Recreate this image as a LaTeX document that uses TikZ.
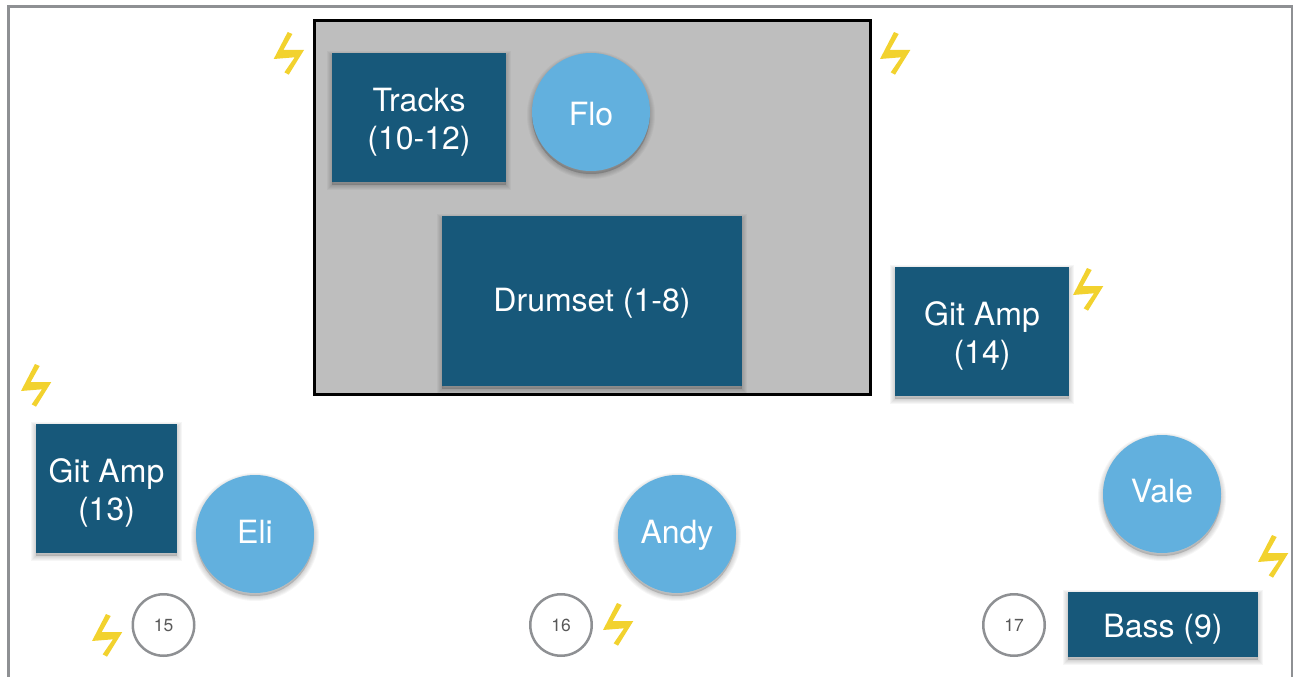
\documentclass[tikz,border=0pt]{standalone}
\usepackage{fontspec}
\setmainfont{TeX Gyre Heros}
\definecolor{boxblue}{HTML}{17587A}
\definecolor{circblue}{HTML}{62B0DE}
\definecolor{framegray}{HTML}{8E9093}
\definecolor{stagegray}{HTML}{BEBEBE}
\definecolor{boltyellow}{HTML}{F2D22E}
\tikzset{
  shadowlayer/.style={preaction={draw=black,fill=black,draw opacity=0.035,fill opacity=0.035,line width=#1,transform canvas={yshift=-3pt}}},
  softshadow/.style={shadowlayer=10pt,shadowlayer=8pt,shadowlayer=6pt,shadowlayer=4pt,shadowlayer=2pt},
  base/.style={text height=2*#1,text depth=0pt},
  baseup/.style={text height=0pt,text depth=2*#1},
  gear/.style={draw=none,fill=boxblue,text=white,inner sep=0pt,align=center,font=\fontsize{32}{38}\selectfont,softshadow},
  person/.style={circle,draw=none,fill=circblue,text=white,inner sep=0pt,minimum size=118pt,font=\fontsize{32}{38}\selectfont,softshadow},
  mon/.style={circle,draw=framegray,line width=2.5pt,fill=white,text=black!65,inner sep=0pt,minimum size=61.5pt,base=6.5pt,font=\fontsize{17.5}{21}\selectfont},
  bolt/.pic={\fill[boltyellow] (14,0)--(18.7,2)--(9.7,18)--(30.3,18)--(15,42.7)--(10.7,40.3)--(21,25.3)--(0,27)--cycle;}
}
\newcommand{\gearbox}[7]{\node[gear,minimum width=#3pt-#1pt,minimum height=#4pt-#2pt,#7] (#5) at ({(#1+#3)/2},{(#2+#4)/2}) {#6};}
\newcommand{\twolines}[2]{\smash{\begin{tabular}[t]{@{}c@{}}#1\\#2\end{tabular}}}
\begin{document}
\begin{tikzpicture}[x=1pt,y=-1pt]
\useasboundingbox (0,0) rectangle (1293,677);
\draw[framegray,line width=3pt] (8,677) -- (8,7) -- (1292,7) -- (1292,677);
\draw[black,line width=3pt,fill=stagegray] (314,21) rectangle (870,394);
\gearbox{332}{53}{506}{182}{tracks}{\twolines{Tracks}{(10-12)}}{baseup=6pt}
\gearbox{442}{216}{742}{386}{drums}{Drumset (1-8)}{base=10.5pt}
\gearbox{895}{267}{1069}{396}{amp14}{\twolines{Git Amp}{(14)}}{baseup=6pt}
\gearbox{36}{424}{177}{553}{amp13}{\twolines{Git Amp}{(13)}}{baseup=6pt}
\gearbox{1068}{592}{1258}{657}{bass}{Bass (9)}{base=13pt}
\node[person,base=13pt] (flo) at (591,112) {Flo};
\node[person,base=9.5pt] (eli) at (255,534) {Eli};
\node[person,base=9.5pt] (andy) at (677,534) {Andy};
\node[person,base=8.5pt] (vale) at (1162,494) {Vale};
\node[mon] (m15) at (163.5,625) {15};
\node[mon] (m16) at (561,625) {16};
\node[mon] (m17) at (1014,625) {17};
\foreach \bx/\by in {273.7/32,880/32,1073/268,21/364,92/614,603/603,1258/535}
  \pic at (\bx,\by) {bolt};
\end{tikzpicture}
\end{document}
